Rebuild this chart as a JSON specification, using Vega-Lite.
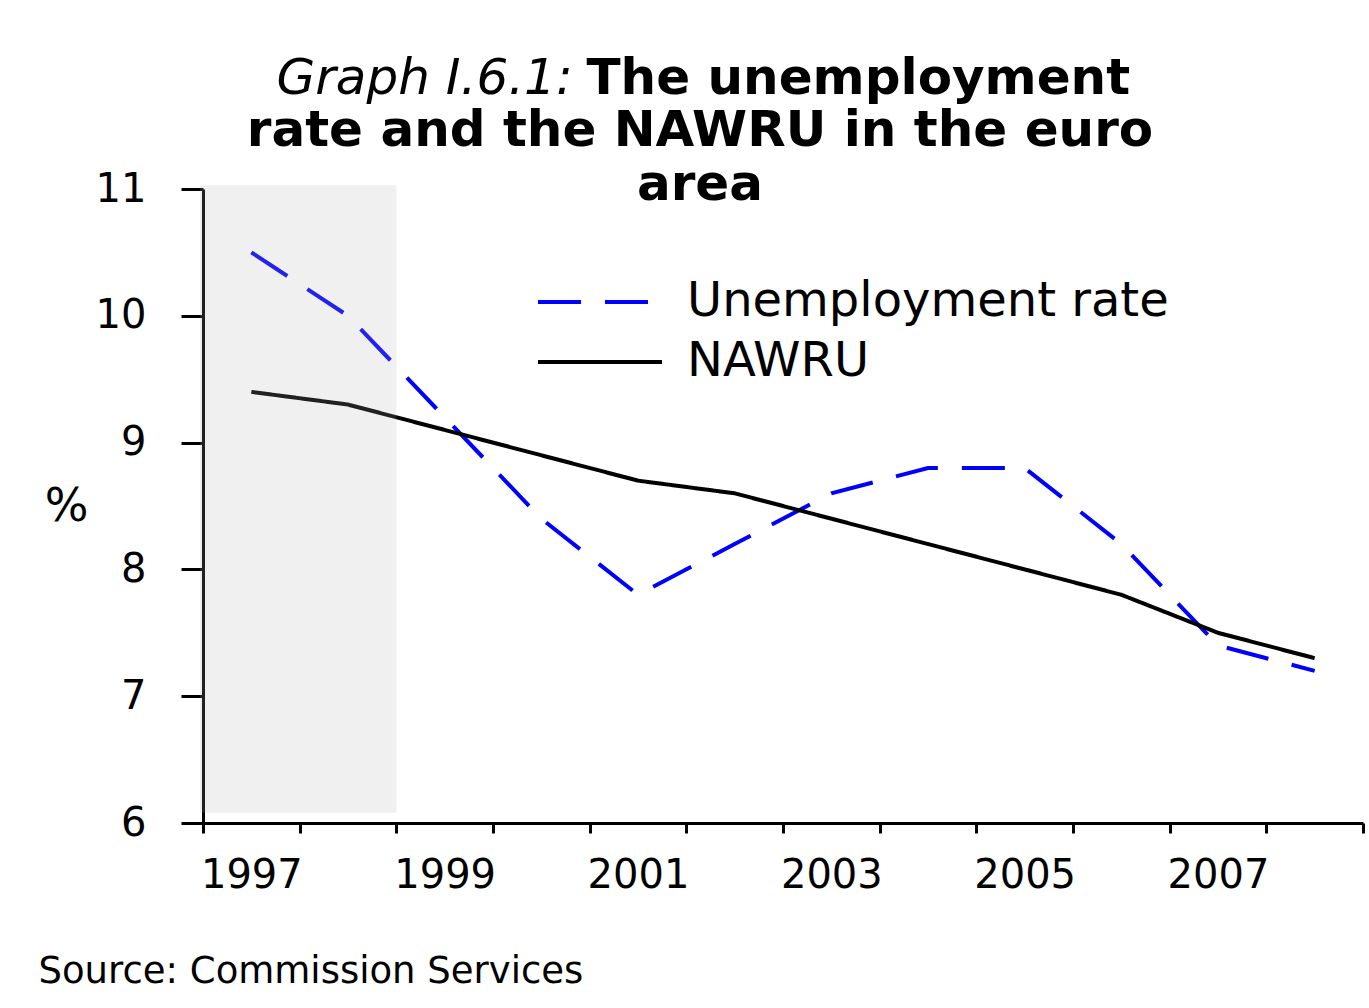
{
  "$schema": "https://vega.github.io/schema/vega-lite/v6.json",
  "autosize": {"type": "none"},
  "padding": {"left": 203, "top": 189, "right": 6, "bottom": 185},
  "width": 1160,
  "height": 634,
  "background": "white",
  "config": {
    "font": "DejaVu Sans",
    "view": {"stroke": null}
  },
  "title": {
    "text": ["rate and the NAWRU in the euro", "area"],
    "font": "DejaVu Sans",
    "fontSize": 50,
    "fontWeight": "bold",
    "color": "black",
    "lineHeight": 54,
    "anchor": "middle",
    "frame": "group",
    "dx": -83,
    "offset": -157
  },
  "resolve": {"axis": {"x": "independent", "y": "independent"}},
  "layer": [
    {
      "data": {"values": [
        {"year": 1997, "series": "Unemployment rate", "value": 10.5},
        {"year": 1998, "series": "Unemployment rate", "value": 10.0},
        {"year": 1999, "series": "Unemployment rate", "value": 9.2},
        {"year": 2000, "series": "Unemployment rate", "value": 8.4},
        {"year": 2001, "series": "Unemployment rate", "value": 7.8},
        {"year": 2002, "series": "Unemployment rate", "value": 8.2},
        {"year": 2003, "series": "Unemployment rate", "value": 8.6},
        {"year": 2004, "series": "Unemployment rate", "value": 8.8},
        {"year": 2005, "series": "Unemployment rate", "value": 8.8},
        {"year": 2006, "series": "Unemployment rate", "value": 8.2},
        {"year": 2007, "series": "Unemployment rate", "value": 7.4},
        {"year": 2008, "series": "Unemployment rate", "value": 7.2},
        {"year": 1997, "series": "NAWRU", "value": 9.4},
        {"year": 1998, "series": "NAWRU", "value": 9.3},
        {"year": 1999, "series": "NAWRU", "value": 9.1},
        {"year": 2000, "series": "NAWRU", "value": 8.9},
        {"year": 2001, "series": "NAWRU", "value": 8.7},
        {"year": 2002, "series": "NAWRU", "value": 8.6},
        {"year": 2003, "series": "NAWRU", "value": 8.4},
        {"year": 2004, "series": "NAWRU", "value": 8.2},
        {"year": 2005, "series": "NAWRU", "value": 8.0},
        {"year": 2006, "series": "NAWRU", "value": 7.8},
        {"year": 2007, "series": "NAWRU", "value": 7.5},
        {"year": 2008, "series": "NAWRU", "value": 7.3}
      ]},
      "mark": {"type": "line", "strokeWidth": 4},
      "encoding": {
        "x": {
          "field": "year", "type": "quantitative",
          "scale": {"domain": [1996.5, 2008.5], "nice": false, "zero": false},
          "axis": {
            "orient": "bottom",
            "values": [1996.5, 1997, 1997.5, 1998, 1998.5, 1999, 1999.5, 2000, 2000.5, 2001, 2001.5, 2002, 2002.5, 2003, 2003.5, 2004, 2004.5, 2005, 2005.5, 2006, 2006.5, 2007, 2007.5, 2008, 2008.5],
            "labelExpr": "datum.value % 2 == 1 ? '' + datum.value : ''",
            "tickOpacity": {"condition": {"test": "datum.value % 1 == 0", "value": 0}, "value": 1},
            "grid": false,
            "domainColor": "black",
            "domainWidth": 3,
            "tickColor": "black",
            "tickWidth": 3,
            "tickSize": 10,
            "labelFont": "DejaVu Sans",
            "labelFontSize": 40,
            "labelColor": "black",
            "labelBaseline": "alphabetic",
            "labelPadding": 54,
            "labelOverlap": false,
            "labelFlush": false,
            "labelBound": false,
            "title": "Source: Commission Services",
            "titleFont": "DejaVu Sans",
            "titleFontSize": 37,
            "titleFontWeight": "normal",
            "titleColor": "black",
            "titleAlign": "left",
            "titleAnchor": "start",
            "titleBaseline": "alphabetic",
            "titleX": -165,
            "titleY": 159
          }
        },
        "y": {
          "field": "value", "type": "quantitative",
          "scale": {"domain": [6, 11], "nice": false, "zero": false},
          "axis": {
            "orient": "left",
            "values": [6, 7, 8, 9, 10, 11],
            "format": "d",
            "grid": false,
            "domainColor": "black",
            "domainWidth": 3,
            "tickColor": "black",
            "tickWidth": 3,
            "tickSize": 22,
            "labelFont": "DejaVu Sans",
            "labelFontSize": 40,
            "labelColor": "black",
            "labelPadding": 35,
            "labelOverlap": false,
            "labelFlush": false,
            "labelBound": false,
            "title": "%",
            "titleFont": "DejaVu Sans",
            "titleFontSize": 46,
            "titleFontWeight": "normal",
            "titleColor": "black",
            "titleAngle": 0,
            "titleAlign": "center",
            "titleBaseline": "middle",
            "titleX": -137,
            "titleY": 317
          }
        },
        "color": {
          "field": "series", "type": "nominal",
          "scale": {"domain": ["Unemployment rate", "NAWRU"], "range": ["#0000ff", "#000000"]},
          "legend": {
            "title": null,
            "orient": "none",
            "legendX": 333,
            "legendY": 89,
            "padding": 0,
            "symbolType": "stroke",
            "symbolSize": 15376,
            "symbolStrokeWidth": 4,
            "labelFont": "DejaVu Sans",
            "labelFontSize": 48,
            "labelColor": "black",
            "labelOffset": 23,
            "labelLimit": 800,
            "clipHeight": 48,
            "rowPadding": 12
          }
        },
        "strokeDash": {
          "field": "series", "type": "nominal",
          "scale": {"domain": ["Unemployment rate", "NAWRU"], "range": [[43, 24], [1, 0]]},
          "legend": {
            "title": null,
            "orient": "none",
            "legendX": 333,
            "legendY": 89,
            "padding": 0,
            "symbolType": "stroke",
            "symbolSize": 15376,
            "symbolStrokeWidth": 4,
            "labelFont": "DejaVu Sans",
            "labelFontSize": 48,
            "labelColor": "black",
            "labelOffset": 23,
            "labelLimit": 800,
            "clipHeight": 48,
            "rowPadding": 12
          }
        }
      }
    },
    {
      "data": {"values": [{"start": 1996.47, "end": 1998.5, "low": 6.08, "high": 11.03}]},
      "mark": {"type": "rect", "fill": "rgb(177,177,177)", "fillOpacity": 0.19},
      "encoding": {
        "x": {
          "field": "start", "type": "quantitative",
          "axis": {
            "orient": "top",
            "domain": false, "ticks": false, "labels": false, "grid": false,
            "title": "Graph I.6.1:",
            "titleFont": "DejaVu Sans",
            "titleFontSize": 50,
            "titleFontStyle": "italic",
            "titleFontWeight": "normal",
            "titleColor": "black",
            "titleAlign": "left",
            "titleAnchor": "start",
            "titleBaseline": "alphabetic",
            "titleAngle": 0,
            "titleX": 73,
            "titleY": -96
          }
        },
        "x2": {"field": "end"},
        "y": {
          "field": "low", "type": "quantitative",
          "axis": {
            "orient": "right",
            "domain": false, "ticks": false, "labels": false, "grid": false,
            "title": "The unemployment",
            "titleFont": "DejaVu Sans",
            "titleFontSize": 50,
            "titleFontWeight": "bold",
            "titleColor": "black",
            "titleAlign": "left",
            "titleAnchor": "start",
            "titleBaseline": "alphabetic",
            "titleAngle": 0,
            "titleX": -777,
            "titleY": -96
          }
        },
        "y2": {"field": "high"}
      }
    }
  ]
}
